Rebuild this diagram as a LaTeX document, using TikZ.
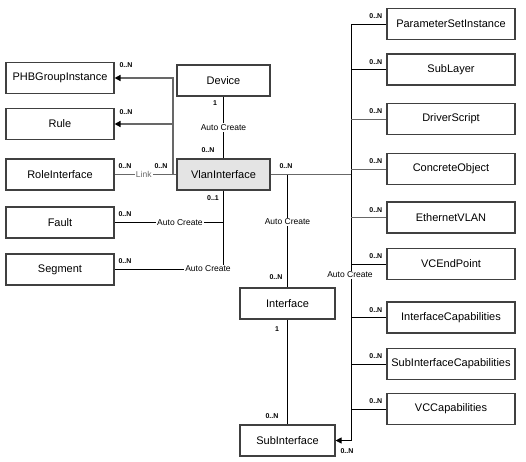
\documentclass[tikz,border=0pt]{standalone}
\usepackage{fontspec}
\setmainfont{Liberation Sans}
\usetikzlibrary{arrows.meta}
\definecolor{bord}{HTML}{404040}
\definecolor{lgray}{HTML}{686868}
\definecolor{boxfill}{HTML}{E4E4E4}
\begin{document}
\begin{tikzpicture}[x=1pt,y=-1pt,
  box/.style={draw=bord,line width=1.1pt,minimum width=#1,minimum height=31pt,inner sep=0pt,
    font=\fontsize{11}{13}\selectfont},
  blk/.style={draw=black,line width=0.8pt},
  gry/.style={draw=lgray,line width=1.5pt},
  arr/.style={-{Triangle[length=6pt,width=6pt,color=black]}},
  mult/.style={font=\bfseries\fontsize{7}{8}\selectfont,inner sep=1pt},
  lbl/.style={font=\fontsize{8.5}{10}\selectfont,fill=white,inner sep=1pt},
  rmult/.style={mult,anchor=south east,xshift=-3pt,yshift=4pt}]
\useasboundingbox (0,0) rectangle (526,461);

% left column
\node[box=108pt] (phb)  at (60,78)    {PHBGroupInstance};
\node[box=108pt] (rule) at (60,124)   {Rule};
\node[box=108pt] (role) at (60,174.5) {RoleInterface};
\node[box=108pt] (fault) at (60,222.5) {Fault};
\node[box=108pt] (seg)  at (60,269.5) {Segment};
% middle
\node[box=93pt] (dev)  at (223.5,80.5) {Device};
\node[box=93pt,fill=boxfill] (vlan) at (223.5,174.5) {VlanInterface};
\node[box=95pt] (iface) at (287.5,303.5) {Interface};
\node[box=95pt] (sub)  at (287.5,440.5) {SubInterface};
% right column
\node[box=128pt] (psi) at (451,24)    {ParameterSetInstance};
\node[box=128pt] (sl)  at (451,69.5)  {SubLayer};
\node[box=128pt] (ds)  at (451,119)   {DriverScript};
\node[box=128pt] (co)  at (451,169)   {ConcreteObject};
\node[box=128pt] (ev)  at (451,217.5) {EthernetVLAN};
\node[box=128pt] (vce) at (451,264)   {VCEndPoint};
\node[box=128pt] (ic)  at (451,317.5) {InterfaceCapabilities};
\node[box=128pt] (sic) at (451,364)   {SubInterfaceCapabilities};
\node[box=128pt] (vcc) at (451,409)   {VCCapabilities};

\coordinate (wj) at (173,174.5);
\coordinate (ej) at (351,174.5);

% Device - VlanInterface
\draw[blk] (dev.south) -- node[lbl] (acdev) {Auto Create} (vlan.north);
% west side
\draw[gry] (vlan.west) -- (wj);
\draw[gry,arr] (wj) |- (phb.east);
\draw[gry,arr] (wj |- rule.east) -- (rule.east);
\draw[gry] (role.east) -- node[lbl,text=lgray] (link) {Link} (wj);
% south side
\draw[blk] (vlan.south) |- node[lbl,pos=0.7] (acfault) {Auto Create} (fault.east);
\draw[blk] (vlan.south) |- (seg.east);
\node[lbl] (acseg) at (208,269) {Auto Create};
% east side
\draw[gry] (vlan.east) -- (ej);
\draw[blk] (vlan.east -| iface.north) -- node[lbl,pos=0.42] (aciface) {Auto Create} (iface.north);
\draw[blk] (iface.south) -- (sub.north);
\draw[blk,arr] (psi.west) -| (ej |- sub.east) -- (sub.east);
\draw[blk] (ej |- sl.west) -- (sl.west);
\draw[draw=lgray,line width=1pt] (ej |- ds.west) -- (ds.west);
\draw[draw=lgray,line width=1pt] (ej |- co.west) -- (co.west);
\draw[draw=lgray,line width=1pt] (ej |- ev.west) -- (ev.west);
\foreach \n in {vce,ic,sic,vcc} \draw[blk] (ej |- \n.west) -- (\n.west);
\node[lbl] (acright) at (350,275) {Auto Create};

% multiplicities
\node[mult] (m1) at (126,65)  {0..N};
\node[mult] (m2) at (126,112) {0..N};
\node[mult] (m3) at (125,166) {0..N};
\node[mult] (m4) at (161,166) {0..N};
\node[mult] (m5) at (125,214) {0..N};
\node[mult] (m6) at (125,261) {0..N};
\node[mult] (m7) at (215,103) {1};
\node[mult] (m8) at (208,150) {0..N};
\node[mult] (m9) at (213,198) {0..1};
\node[mult] (m10) at (286,166) {0..N};
\node[mult] (m11) at (276,277) {0..N};
\node[mult] (m12) at (277,329) {1};
\node[mult] (m13) at (272,416) {0..N};
\node[mult] (m14) at (347,451) {0..N};
\foreach \n in {psi,sl,ds,co,ev,vce,ic,sic,vcc}
  \node[rmult] (m\n) at (\n.west) {0..N};
\end{tikzpicture}
\end{document}
